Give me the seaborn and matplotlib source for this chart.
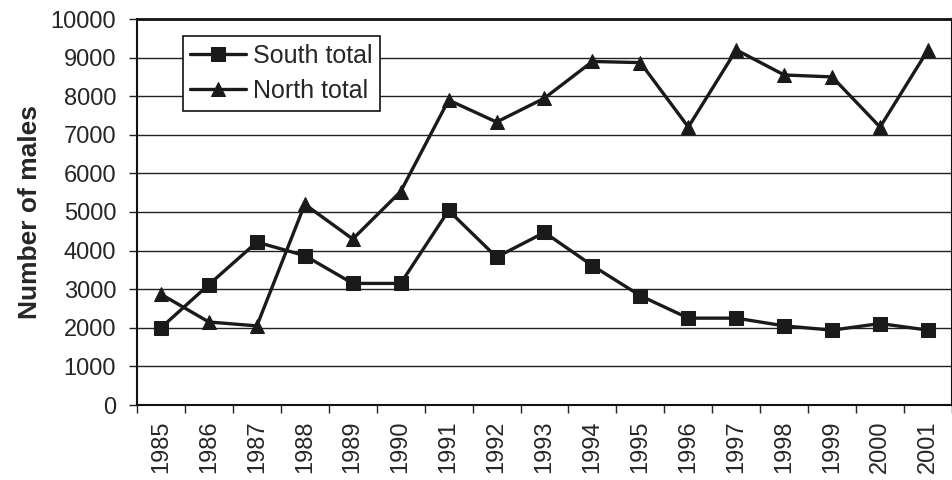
import matplotlib
matplotlib.use("Agg")
import matplotlib.pyplot as plt
import seaborn as sns
import pandas as pd
import numpy as np

years = [1985, 1986, 1987, 1988, 1989, 1990, 1991, 1992, 1993, 1994, 1995,
         1996, 1997, 1998, 1999, 2000, 2001]
south_total = [2000, 3120, 4220, 3870, 3150, 3150, 5040, 3830, 4470, 3610,
               2830, 2250, 2250, 2050, 1940, 2110, 1940]
north_total = [2870, 2150, 2050, 5200, 4300, 5530, 7900, 7330, 7950, 8900,
               8870, 7200, 9200, 8550, 8500, 7200, 9200]
series_names = ["South total", "North total"]
y_ticks = list(range(0, 10001, 1000))

sns.set_theme(style="white")
plt.rcParams['font.family'] = ['Liberation Sans', 'DejaVu Sans']

df = pd.DataFrame({
    "pos": list(range(len(years))) * 2,
    "value": south_total + north_total,
    "series": [series_names[0]] * len(years) + [series_names[1]] * len(years),
})

fig = plt.figure(figsize=(9.53, 4.80), dpi=100)
ax = fig.add_axes([137 / 953, 1 - 405 / 480, (952 - 137) / 953, (405 - 19) / 480])

col = "#1a1a1a"
sns.lineplot(data=df, x="pos", y="value", hue="series", style="series",
             markers={"South total": "s", "North total": "^"}, dashes=False,
             palette={"South total": col, "North total": col},
             linewidth=2.4, markersize=10, markeredgecolor=col,
             ax=ax, legend=True)

ax.set_xlim(-0.5, len(years) - 0.5)
ax.set_ylim(0, 10000)
ax.set_yticks(y_ticks)
ax.set_yticklabels([str(v) for v in y_ticks], fontsize=17)
ax.yaxis.grid(True, color="#222222", linewidth=1.0)
ax.set_axisbelow(True)

ax.set_xticks(np.arange(len(years)))
ax.set_xticklabels([str(y) for y in years], rotation=90, fontsize=17)
ax.set_xticks(np.arange(len(years) + 1) - 0.5, minor=True)
ax.tick_params(axis="x", which="major", length=0, pad=11)
ax.tick_params(axis="x", which="minor", length=6, width=1, color="#222222", direction="out", bottom=True)
ax.tick_params(axis="y", which="major", length=6, width=1, color="#222222", direction="out", left=True, pad=9)

ax.set_xlabel("")
ax.set_ylabel("Number of males", fontsize=19, fontweight="bold", labelpad=6)

for s in ax.spines.values():
    s.set_visible(True)
    s.set_color("#111111")
    s.set_linewidth(1.5)
ax.spines["top"].set_linewidth(2.0)

leg = ax.legend(loc="upper left", bbox_to_anchor=(0.056, 0.955), fontsize=18,
                frameon=True, fancybox=False, edgecolor="#111111",
                framealpha=1, borderpad=0.3, labelspacing=0.45,
                handlelength=2.25, handletextpad=0.25, borderaxespad=0)
leg.get_frame().set_linewidth(1.2)

fig.savefig("out.png", dpi=100)
